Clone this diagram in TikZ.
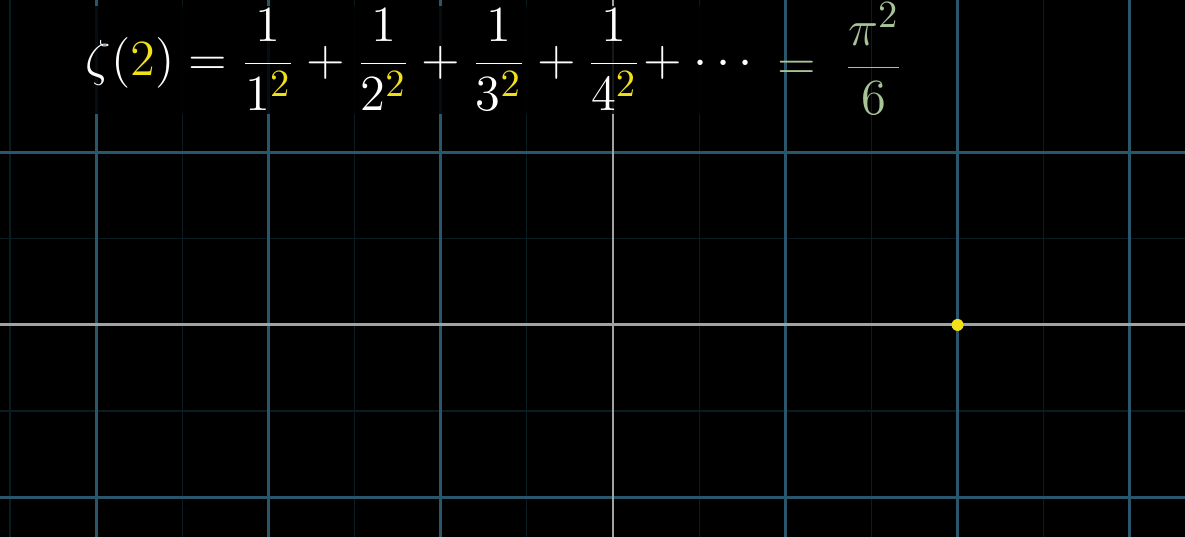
\documentclass[tikz,border=0pt]{standalone}
\usepackage{xcolor}
\usetikzlibrary{positioning}

\definecolor{gridblue}{HTML}{29566B}
\definecolor{gridfaint}{HTML}{0B1B22}
\definecolor{axisgrey}{HTML}{A2A2A2}
\definecolor{zetayellow}{HTML}{F2E11A}
\definecolor{pigreen}{HTML}{A8C496}
\newcommand{\yel}[1]{{\color{zetayellow}#1}}

\begin{document}
\begin{tikzpicture}[x=1.723cm,y=1.723cm,
    majorline/.style={gridblue,line width=0.9pt},
    minorline/.style={gridfaint,line width=0.35pt},
    axisline/.style={axisgrey,line width=0.85pt},
    formula/.style={text=white,font=\fontsize{15.1}{18}\selectfont}]
      % plane
      \fill[black] (-3.558,-1.230) rectangle (3.320,1.886);
      \useasboundingbox (-3.558,-1.230) rectangle (3.320,1.886);

      \foreach \x in {-3.5,-2.5,...,2.5}
        \draw[minorline] (\x,-1.230) -- (\x,1.886);
      \foreach \y in {-0.5,0.5}
        \draw[minorline] (-3.558,\y) -- (3.320,\y);

      \foreach \x in {-3,-2,-1,1,2,3}
        \draw[majorline] (\x,-1.230) -- (\x,1.886);
      \foreach \y in {-1,1}
        \draw[majorline] (-3.558,\y) -- (3.320,\y);

      \draw[axisline] (0,-1.230) -- (0,1.886);
      \draw[axisline] (-3.558,0) -- (3.320,0);

      % the sum
      \node[formula,anchor=base west,fill=black,fill opacity=0.85,text opacity=1,
            inner xsep=0.15cm,inner ysep=1pt] (lhs) at (-3.151,1.445)
        {$\displaystyle \zeta(\yel{2}) = \frac{1}{1^{\yel{2}}} + \frac{1}{2^{\yel{2}}}
          + \frac{1}{3^{\yel{2}}} + \frac{1}{4^{\yel{2}}}\!+ \cdots$};
      \node[formula,text=pigreen,base right=0.08cm of lhs,yshift=-0.04cm,inner sep=0pt] (rhs)
        {$\displaystyle = \;\frac{\pi^2}{6}$};

      \node[circle,fill=zetayellow,inner sep=0pt,minimum size=0.12cm] (dot) at (2,0) {};
    \end{tikzpicture}
\end{document}
